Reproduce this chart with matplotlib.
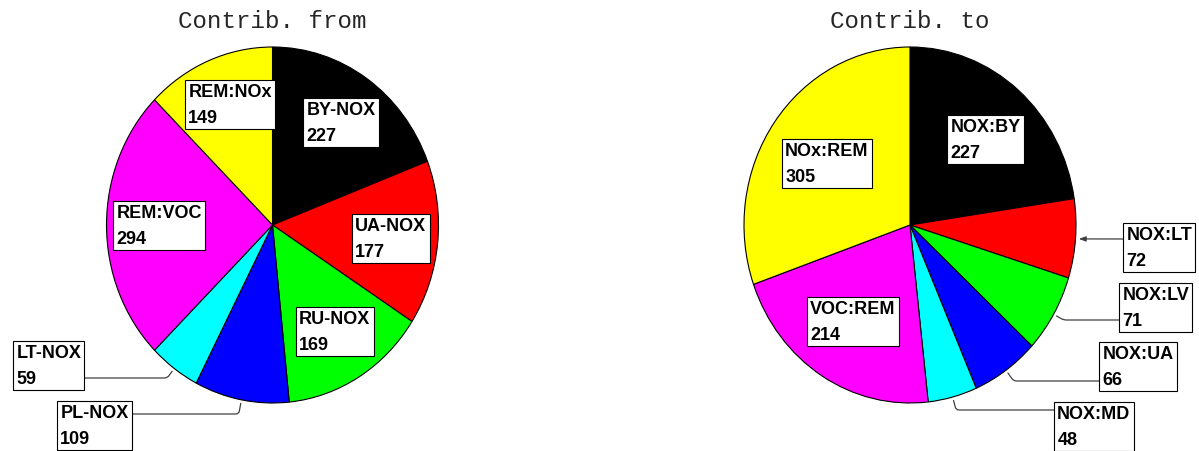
import numpy as np
import matplotlib
matplotlib.use("Agg")
import matplotlib.pyplot as plt

W, H = 1199, 452
DPI = 100

from_labels = ["BY-NOX", "UA-NOX", "RU-NOX", "PL-NOX", "LT-NOX", "REM:VOC", "REM:NOx"]
from_vals = [227, 177, 169, 109, 59, 294, 149]
to_labels = ["NOX:BY", "NOX:LT", "NOX:LV", "NOX:UA", "NOX:MD", "VOC:REM", "NOx:REM"]
to_vals = [227, 72, 71, 66, 48, 214, 305]
colors = ["#000000", "#ff0000", "#00ff00", "#0000ff", "#00ffff", "#ff00ff", "#ffff00"]

# label box top-left (px), and leader start (px) for outside labels
from_boxes = [(303, 99), (352, 215), (296, 308), (57, 402), (13, 342), (113, 202), (185, 81)]
from_leaders = {3: (127, 415), 4: (82, 379)}
to_boxes = [(947, 116), (1123, 224), (1119, 284), (1099, 343), (1054, 403), (807, 298), (782, 140)]
to_leaders = {1: (1130, 240), 2: (1126, 321), 3: (1104, 382), 4: (1060, 411)}

RX, RY = 166, 178
LIM = 1.25
LABEL_FONT = ["Liberation Sans", "DejaVu Sans"]
FS = 13
PAD = 0.18

fig = plt.figure(figsize=(W / DPI, H / DPI), dpi=DPI)


def draw_pie(cx, cy, vals, labels, boxes, leaders, title):
    aw, ah = 2 * LIM * RX, 2 * LIM * RY
    ax = fig.add_axes([(cx - aw / 2) / W, 1 - (cy + ah / 2) / H, aw / W, ah / H])
    wedges, _ = ax.pie(vals, colors=colors, startangle=90, counterclock=False,
                       wedgeprops=dict(edgecolor="black", linewidth=0.8))
    ax.set_aspect("auto")
    ax.set_xlim(-LIM, LIM)
    ax.set_ylim(-LIM, LIM)
    ax.axis("off")

    def p2d(px, py):
        return (px - cx) / RX, (cy - py) / RY

    pad_px = PAD * FS * DPI / 72
    for i, (lab, v) in enumerate(zip(labels, vals)):
        bx, by = boxes[i]
        ax.text(*p2d(bx + pad_px, by + pad_px), f"{lab}\n{v}", ha="left", va="top",
                family=LABEL_FONT, fontsize=FS, fontweight="bold", linespacing=1.68,
                bbox=dict(boxstyle=f"square,pad={PAD}", fc="white", ec="black", lw=0.8),
                zorder=5)
        if i in leaders:
            w = wedges[i]
            mid = np.deg2rad((w.theta1 + w.theta2) / 2)
            pt = (1.02 * np.cos(mid), 1.02 * np.sin(mid))
            start = p2d(*leaders[i])
            if abs(start[1] - pt[1]) < 0.02:
                ax.annotate("", xy=pt, xytext=start, zorder=4,
                            arrowprops=dict(arrowstyle="-|>,head_length=0.4,head_width=0.15",
                                            color="0.25", lw=0.9, shrinkA=0, shrinkB=0))
            else:
                ax.annotate("", xy=pt, xytext=start, zorder=4,
                            arrowprops=dict(arrowstyle="-", color="0.25", lw=0.9,
                                            connectionstyle=f"angle,angleA=0,angleB={np.rad2deg(mid):.1f},rad=3",
                                            shrinkA=0, shrinkB=0))
    fig.text(cx / W, 1 - 28 / H, title, ha="center", va="baseline",
             family=["Liberation Mono", "DejaVu Sans Mono"], fontsize=17.4, color="0.15")


draw_pie(272.5, 226, from_vals, from_labels, from_boxes, from_leaders, "Contrib. from")
draw_pie(910, 226, to_vals, to_labels, to_boxes, to_leaders, "Contrib. to")

fig.savefig("out.png", dpi=DPI)
